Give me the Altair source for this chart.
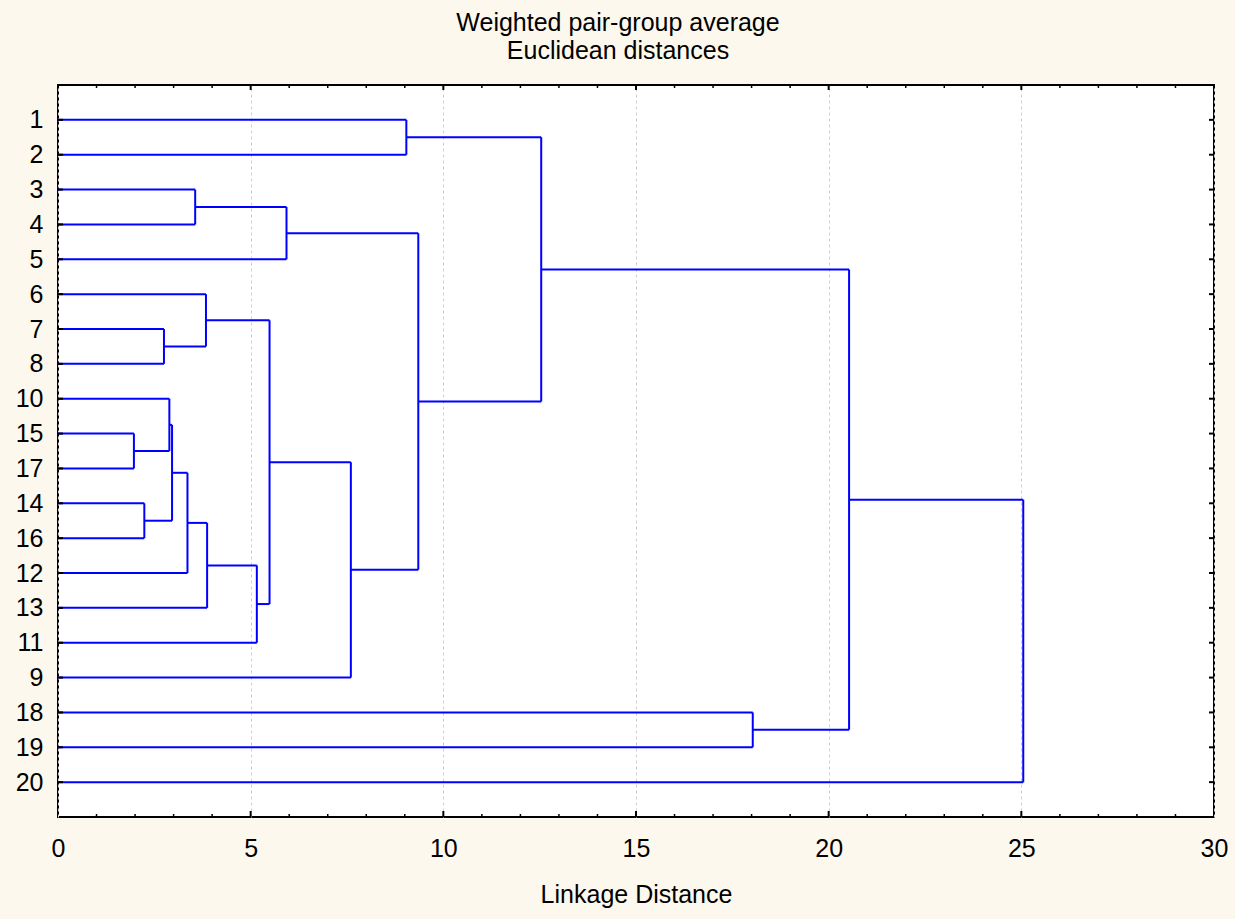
import altair as alt
import pandas as pd

# ---- data ----
leaf_order = ["1", "2", "3", "4", "5", "6", "7", "8", "10", "15", "17",
              "14", "16", "12", "13", "11", "9", "18", "19", "20"]
merge_a = ["1", "3", "m1", "7", "6", "15", "10", "14", "m6", "m8", "m9",
           "m10", "m4", "m12", "m2", "m0", "18", "m15", "m17"]
merge_b = ["2", "4", "5", "8", "m3", "17", "m5", "16", "m7", "12", "13",
           "11", "m11", "9", "m13", "m14", "19", "m16", "20"]
merge_h = [9.04, 3.56, 5.93, 2.75, 3.84, 1.97, 2.89, 2.24, 2.96, 3.36, 3.87,
           5.16, 5.49, 7.60, 9.35, 12.54, 18.03, 20.53, 25.05]
x_ticks = [0, 5, 10, 15, 20, 25, 30]

# ---- build dendrogram segments ----
pos = {lab: i + 1 for i, lab in enumerate(leaf_order)}
hgt = {lab: 0.0 for lab in leaf_order}
segs = []
for i, (a, b, h) in enumerate(zip(merge_a, merge_b, merge_h)):
    ya, yb = pos[a], pos[b]
    segs.append(dict(x=h, x2=h, y=ya, y2=yb))
    segs.append(dict(x=hgt[a], x2=h, y=ya, y2=ya))
    segs.append(dict(x=hgt[b], x2=h, y=yb, y2=yb))
    key = "m%d" % i
    pos[key] = (ya + yb) / 2
    hgt[key] = h
seg_df = pd.DataFrame(segs)

leaf_df = pd.DataFrame({"p": list(range(1, len(leaf_order) + 1))})
minor_df = pd.DataFrame({"v": [v for v in range(1, 30) if v % 5 != 0]})
major_df = pd.DataFrame({"v": [v for v in x_ticks if 0 < v < 30]})

W, H = 1156, 732
FONT = "Liberation Sans"
FS = 25

label_arr = "[" + ",".join("'%s'" % s for s in leaf_order) + "]"

xscale = alt.Scale(domain=[0, 30], nice=False, zero=False)
yscale = alt.Scale(domain=[0, 21], reverse=True, nice=False, zero=False)

x_axis = alt.Axis(values=x_ticks, title="Linkage Distance", grid=True,
                  gridDash=[3, 3], gridColor="#cfcfcf", gridWidth=1,
                  ticks=False, domain=False, labelFont=FONT, labelFontSize=FS,
                  labelColor="black", labelPadding=19, titleFont=FONT,
                  titleFontSize=FS, titleFontWeight="normal", titleColor="black",
                  titlePadding=21, labelFlush=False, labelOverlap=False)
y_axis = alt.Axis(values=list(range(1, len(leaf_order) + 1)),
                  labelExpr=label_arr + "[datum.value-1]",
                  title=None, grid=False, ticks=False, domain=False,
                  labelFont=FONT, labelFontSize=FS, labelColor="black",
                  labelPadding=15, labelBaseline="middle",
                  labelOverlap=False, labelFlush=False)

dendro = alt.Chart(seg_df).mark_rule(color="#0000FF", strokeWidth=2).encode(
    x=alt.X("x:Q", scale=xscale, axis=x_axis),
    x2="x2:Q",
    y=alt.Y("y:Q", scale=yscale, axis=y_axis),
    y2="y2:Q",
)

left_ticks = alt.Chart(leaf_df).mark_rule(color="black", strokeWidth=2).encode(
    y=alt.Y("p:Q", scale=yscale, axis=y_axis), x=alt.value(0), x2=alt.value(5))
right_ticks = alt.Chart(leaf_df).mark_rule(color="black", strokeWidth=2).encode(
    y=alt.Y("p:Q", scale=yscale, axis=y_axis), x=alt.value(W - 5), x2=alt.value(W))
bot_minor = alt.Chart(minor_df).mark_rule(color="black", strokeWidth=1.5).encode(
    x=alt.X("v:Q", scale=xscale, axis=x_axis), y=alt.value(H), y2=alt.value(H - 3))
bot_major = alt.Chart(major_df).mark_rule(color="black", strokeWidth=2).encode(
    x=alt.X("v:Q", scale=xscale, axis=x_axis), y=alt.value(H), y2=alt.value(H - 6))
top_minor = alt.Chart(minor_df).mark_rule(color="black", strokeWidth=1.5).encode(
    x=alt.X("v:Q", scale=xscale, axis=x_axis), y=alt.value(0), y2=alt.value(3))
top_major = alt.Chart(major_df).mark_rule(color="black", strokeWidth=2).encode(
    x=alt.X("v:Q", scale=xscale, axis=x_axis), y=alt.value(0), y2=alt.value(5))

chart = alt.layer(
    dendro, left_ticks, right_ticks, bot_minor, bot_major, top_minor, top_major
).properties(
    width=W, height=H,
    title=alt.TitleParams(["Weighted pair-group average", "Euclidean distances"],
                          font=FONT, fontSize=FS, fontWeight="normal", color="black",
                          anchor="middle", lineHeight=28, offset=20, dx=-18),
    autosize=alt.AutoSizeParams(type="none"),
    padding={"left": 58, "top": 85, "right": 21, "bottom": 102},
    background="#FDF8ED",
).configure_view(
    fill="white", stroke="black", strokeWidth=2
).configure_axis(
    labelFontSize=FS, labelFont=FONT
)

chart.save("out.html", embed_options={"renderer": "svg", "actions": False})
